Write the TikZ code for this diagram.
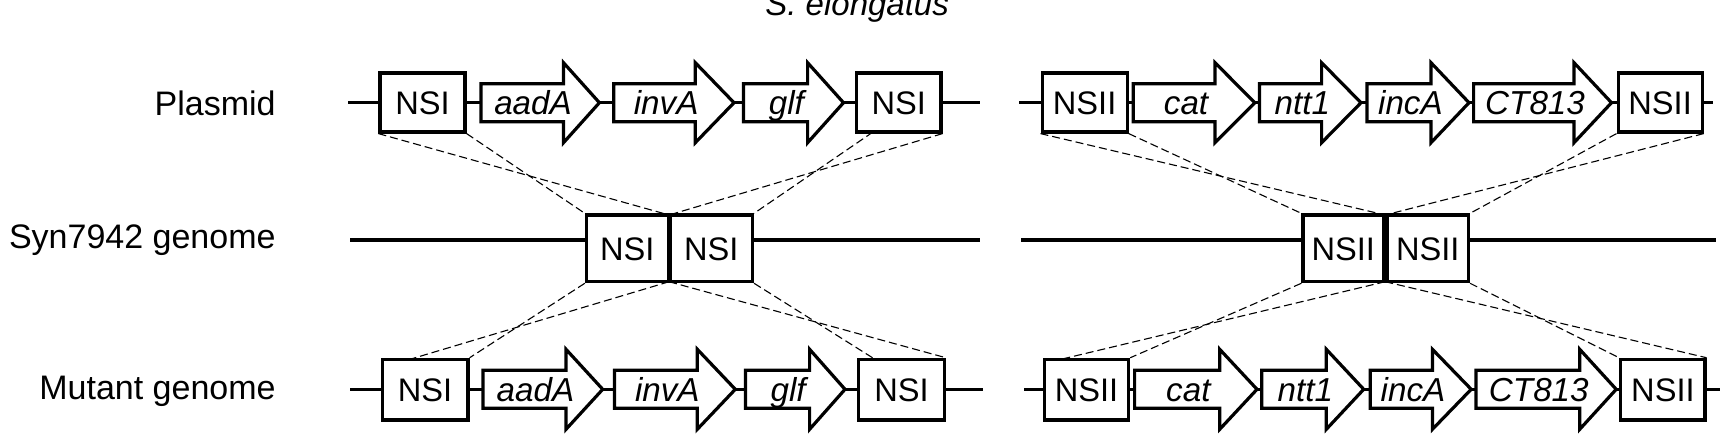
\documentclass[tikz,border=0pt]{standalone}
\usepackage{fontspec}
\setmainfont{Liberation Sans}
\tikzset{
  dnaline/.style={line width=1.7pt},
  nsbox/.style={draw, line width=1.6pt, fill=white, inner sep=0pt, text height=11.7pt, text depth=0pt, font=\fontsize{16.3}{18}\selectfont},
  genebody/.style={draw, line width=1.6pt, fill=white, line join=miter},
  genetext/.style={inner sep=0pt, text height=11.7pt, text depth=0pt, font=\fontsize{16.6}{18}\selectfont\itshape},
  rowlabel/.style={anchor=east, inner sep=0pt, text height=12.2pt, text depth=0pt, font=\fontsize{17}{20}\selectfont},
  crossline/.style={dash pattern=on 4pt off 2pt, line width=0.55pt},
}
% #1 name, #2 centre x, #3 centre y, #4 width px, #5 height px, #6 text
\newcommand\nsboxat[6]{\node[nsbox, minimum width=#4*0.5pt, minimum height=#5*0.5pt] (#1) at (#2,#3) {#6};}
% #1 name, #2 body start, #3 head base, #4 tip, #5 y, #6 text
\newcommand\genearrow[6]{%
  \draw[genebody] (#2,#5-19) -- (#3,#5-19) -- (#3,#5-40) -- (#4,#5) -- (#3,#5+40) -- (#3,#5+19) -- (#2,#5+19) -- cycle;
  \pgfmathsetmacro\gx{(#2+#3)/2+0.3*(#4-#3)}
  \node[genetext] (#1) at (\gx,#5) {#6};
}
\begin{document}
\begin{tikzpicture}[x=0.5pt,y=-0.5pt]
\useasboundingbox (0,0) rectangle (1733,434);
\clip (0,0) rectangle (1733,434);
\fill[white] (0,0) rectangle (1733,434);

% title (cut off at top, as in the reference)
\node[anchor=base west, inner sep=0pt, font=\fontsize{16.5}{19}\selectfont\itshape] (title) at (765,15) {S. elongatus};

% row labels
\node[rowlabel] (lplasmid) at (276,103) {Plasmid};
\node[rowlabel] (lsyn) at (276,236) {Syn7942 genome};
\node[rowlabel] (lmut) at (276,387) {Mutant genome};

% DNA lines
\coordinate (p1s) at (348,102.7); \coordinate (p1e) at (980,102.7);
\coordinate (p2s) at (1019,102.7); \coordinate (p2e) at (1713,102.7);
\coordinate (s1s) at (350,240); \coordinate (s1e) at (980,240);
\coordinate (s2s) at (1021,240); \coordinate (s2e) at (1716,240);
\coordinate (m1s) at (350,389.3); \coordinate (m1e) at (983,389.3);
\coordinate (m2s) at (1024,389.3); \coordinate (m2e) at (1720,389.3);
\draw[dnaline] (p1s) -- (p1e);
\draw[dnaline] (p2s) -- (p2e);
\draw[dnaline] (s1s) -- (s1e);
\draw[dnaline] (s2s) -- (s2e);
\draw[dnaline] (m1s) -- (m1e);
\draw[dnaline] (m2s) -- (m2e);

% plasmid row
\nsboxat{pA}{422.5}{102.5}{85}{59}{NSI}
\genearrow{pg1}{481}{563.5}{599.4}{102.7}{aadA}
\genearrow{pg2}{613.7}{695.3}{734}{102.7}{invA}
\genearrow{pg3}{743.5}{807.6}{843.5}{102.7}{glf}
\nsboxat{pB}{898.7}{102.5}{84.5}{59}{NSI}
\nsboxat{pC}{1084.6}{102.5}{85}{59}{NSII}
\genearrow{pg4}{1133.2}{1215}{1254.8}{102.7}{cat}
\genearrow{pg5}{1259.5}{1321.6}{1361}{102.7}{ntt1}
\genearrow{pg6}{1367}{1431}{1469}{102.7}{incA}
\genearrow{pg7}{1473.6}{1574}{1611.5}{102.7}{CT813}
\nsboxat{pD}{1660.1}{102.5}{84}{59}{NSII}

% genome row
\nsboxat{sA}{627.3}{248.3}{81.7}{66.7}{NSI}
\nsboxat{sB}{711.2}{248.3}{82.4}{66.7}{NSI}
\nsboxat{sC}{1343.2}{248.3}{80.4}{66.7}{NSII}
\nsboxat{sD}{1427.7}{248.3}{81.4}{66.7}{NSII}

% mutant row
\nsboxat{mA}{425.1}{389.7}{85.8}{60.7}{NSI}
\genearrow{mg1}{483}{566}{602.7}{389.3}{aadA}
\genearrow{mg2}{614.5}{697.3}{735.3}{389.3}{invA}
\genearrow{mg3}{745.5}{809.6}{845}{389.3}{glf}
\nsboxat{mB}{901.5}{389.7}{85.7}{60.7}{NSI}
\nsboxat{mC}{1086.5}{389.7}{84.2}{60.7}{NSII}
\genearrow{mg4}{1134.6}{1219.7}{1257}{389.3}{cat}
\genearrow{mg5}{1261.8}{1326.3}{1363.7}{389.3}{ntt1}
\genearrow{mg6}{1370.3}{1432.4}{1471.2}{389.3}{incA}
\genearrow{mg7}{1476}{1579.7}{1616.2}{389.3}{CT813}
\nsboxat{mD}{1662.9}{389.7}{84.2}{60.7}{NSII}

% crossover points
\coordinate (J1) at (669.1,215);
\coordinate (J2) at (669.1,281.7);
\coordinate (J3) at (1385.2,215);
\coordinate (J4) at (1385.2,281.7);
\coordinate (pBb) at (873,132);
\coordinate (mAt) at (410,359.3);
\coordinate (mBt) at (875,359.3);
\coordinate (mCt) at (1061,359.3);

% dashed crossover lines, left
\draw[crossline] (pA.south west) -- (J1);
\draw[crossline] (pA.south east) -- (sA.north west);
\draw[crossline] (pBb) -- (sB.north east);
\draw[crossline] (pB.south east) -- (J1);
\draw[crossline] (sA.south west) -- (mA.north east);
\draw[crossline] (J2) -- (mAt);
\draw[crossline] (sB.south east) -- (mBt);
\draw[crossline] (J2) -- (mB.north east);
% dashed crossover lines, right
\draw[crossline] (pC.south west) -- (J3);
\draw[crossline] (pC.south east) -- (sC.north west);
\draw[crossline] (pD.south west) -- (sD.north east);
\draw[crossline] (pD.south east) -- (J3);
\draw[crossline] (sC.south west) -- (mC.north east);
\draw[crossline] (J4) -- (mCt);
\draw[crossline] (sD.south east) -- (mD.north west);
\draw[crossline] (J4) -- (mD.north east);
\end{tikzpicture}
\end{document}
